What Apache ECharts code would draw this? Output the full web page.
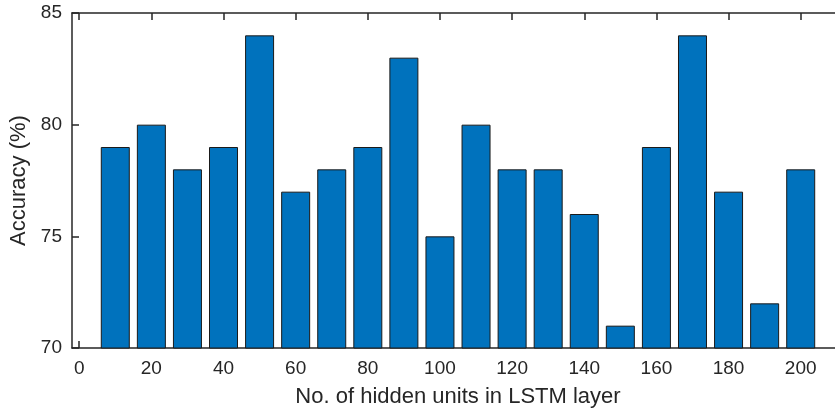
<!DOCTYPE html>
<html>
<head>
<meta charset="utf-8">
<script src="https://cdn.jsdelivr.net/npm/echarts@6/dist/echarts.min.js"></script>
<style>
  html, body { margin: 0; padding: 0; background: #fff; }
  #chart { width: 835px; height: 411px; }
</style>
</head>
<body>
<div id="chart"></div>
<script>
// hidden units per LSTM layer and the accuracy reached
var hiddenUnits = [10, 20, 30, 40, 50, 60, 70, 80, 90, 100, 110, 120, 130, 140, 150, 160, 170, 180, 190, 200];
var accuracy = [79, 80, 78, 79, 84, 77, 78, 79, 83, 75, 80, 78, 78, 76, 71, 79, 84, 77, 72, 78];
var xTicks = [0, 20, 40, 60, 80, 100, 120, 140, 160, 180, 200];
var yTicks = [70, 75, 80, 85];

var fontName = 'Liberation Sans';
var ink = '#262626';
var tickFont = 19;
var labelFont = 22;

var barData = hiddenUnits.map(function (u, i) {
    return [u, accuracy[i]];
});

function frameAxis(extra) {
    var base = {
        axisLine: { show: true, onZero: false, lineStyle: { color: ink, width: 1.5 } },
        axisTick: { show: true, inside: true, length: 7, lineStyle: { color: ink, width: 1.5 } },
        splitLine: { show: false }
    };
    return Object.assign(base, extra);
}

var myChart = echarts.init(document.getElementById('chart'));
var option = {
    animation: false,
    backgroundColor: '#fff',
    textStyle: { fontFamily: fontName },
    grid: { left: 72, top: 13, width: 772, height: 335, outerBoundsMode: 'none', containLabel: false },
    xAxis: [
        frameAxis({
            type: 'value', min: -2, max: 212, position: 'bottom',
            axisTick: { show: true, inside: true, length: 7, customValues: xTicks, lineStyle: { color: ink, width: 1.5 } },
            axisLabel: { customValues: xTicks, color: ink, fontSize: tickFont, margin: 11, fontFamily: fontName },
            name: 'No. of hidden units in LSTM layer',
            nameLocation: 'middle',
            nameGap: 38,
            nameTextStyle: { color: ink, fontSize: labelFont, fontFamily: fontName }
        }),
        frameAxis({
            type: 'value', min: -2, max: 212, position: 'top',
            axisTick: { show: true, inside: true, length: 7, customValues: xTicks, lineStyle: { color: ink, width: 1.5 } },
            axisLabel: { show: false }
        })
    ],
    yAxis: [
        frameAxis({
            type: 'value', min: 70, max: 85, position: 'left',
            axisTick: { show: true, inside: true, length: 7, customValues: yTicks, lineStyle: { color: ink, width: 1.5 } },
            axisLabel: { customValues: yTicks, color: ink, fontSize: tickFont, margin: 10, fontFamily: fontName },
            name: 'Accuracy (%)',
            nameLocation: 'middle',
            nameGap: 36,
            nameTextStyle: { color: ink, fontSize: labelFont, fontFamily: fontName }
        }),
        frameAxis({
            type: 'value', min: 70, max: 85, position: 'right',
            axisTick: { show: true, inside: true, length: 7, customValues: yTicks, lineStyle: { color: ink, width: 1.5 } },
            axisLabel: { show: false }
        })
    ],
    series: [
        {
            type: 'bar',
            data: barData,
            barWidth: 29,
            itemStyle: { color: '#0072BD', borderColor: '#1a1a1a', borderWidth: 1 }
        }
    ]
};
myChart.setOption(option, true);
</script>
</body>
</html>
